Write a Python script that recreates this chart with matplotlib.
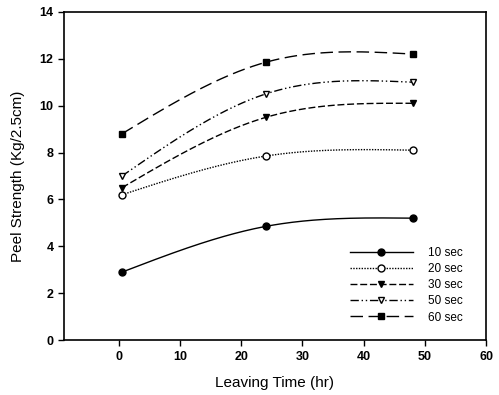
import numpy as np
import matplotlib.pyplot as plt

# Peel strength vs leaving time for different press times
hours = [0.5, 24, 48]
s10 = [2.9, 4.85, 5.2]
s20 = [6.2, 7.85, 8.1]
s30 = [6.5, 9.5, 10.1]
s50 = [7.0, 10.5, 11.0]
s60 = [8.8, 11.85, 12.2]
labels = ["10 sec", "20 sec", "30 sec", "50 sec", "60 sec"]


def smooth(x, y, n=100):
    # natural cubic spline through the points (curve drawing only)
    x = np.asarray(x, float)
    y = np.asarray(y, float)
    k = len(x)
    h = np.diff(x)
    A = np.zeros((k, k))
    b = np.zeros(k)
    A[0, 0] = A[-1, -1] = 1
    for i in range(1, k - 1):
        A[i, i - 1] = h[i - 1]
        A[i, i] = 2 * (h[i - 1] + h[i])
        A[i, i + 1] = h[i]
        b[i] = 6 * ((y[i + 1] - y[i]) / h[i] - (y[i] - y[i - 1]) / h[i - 1])
    M = np.linalg.solve(A, b)
    xs, ys = [], []
    for i in range(k - 1):
        t = np.linspace(x[i], x[i + 1], n)
        a = x[i + 1] - t
        c = t - x[i]
        s = (M[i] * a**3 + M[i + 1] * c**3) / (6 * h[i]) \
            + (y[i] / h[i] - M[i] * h[i] / 6) * a \
            + (y[i + 1] / h[i] - M[i + 1] * h[i] / 6) * c
        xs.append(t)
        ys.append(s)
    return np.concatenate(xs), np.concatenate(ys)


plt.rcParams["font.family"] = ["Liberation Sans", "DejaVu Sans"]

fig = plt.figure(figsize=(4.99, 3.95), dpi=100)
ax = fig.add_axes([0.128, 0.139, 0.846, 0.831])

series = [s10, s20, s30, s50, s60]
styles = ["-", (0, (1, 1)), (0, (5, 2)), (0, (6, 2, 1, 2, 1, 2)), (0, (9, 4))]
markers = ["o", "o", "v", "v", "s"]
faces = ["black", "white", "black", "white", "black"]

for vals, ls, mk, fc, lab in zip(series, styles, markers, faces, labels):
    xs, ys = smooth(hours, vals)
    ax.plot(xs, ys, color="black", lw=1.0, linestyle=ls)
    ax.plot(hours, vals, linestyle="none", marker=mk, mfc=fc, mec="black",
            ms=5, mew=1.0)
    ax.plot([], [], color="black", lw=1.0, linestyle=ls, marker=mk, mfc=fc,
            mec="black", ms=5, mew=1.0, label=lab)

ax.set_xlim(-9, 60)
ax.set_ylim(0, 14)
ax.set_xticks([0, 10, 20, 30, 40, 50, 60])
ax.set_yticks([0, 2, 4, 6, 8, 10, 12, 14])
ax.tick_params(direction="out", length=4, width=1, labelsize=9)
for lab in ax.get_xticklabels() + ax.get_yticklabels():
    lab.set_fontweight("bold")
for sp in ax.spines.values():
    sp.set_linewidth(1.2)

ax.set_xlabel("Leaving Time (hr)", fontsize=11, labelpad=10)
ax.set_ylabel("Peel Strength (Kg/2.5cm)", fontsize=11, labelpad=10)

ax.legend(loc="lower right", frameon=False, fontsize=8.5, handlelength=5.3,
          labelspacing=0.35, handletextpad=1.3, borderpad=0.4,
          bbox_to_anchor=(0.97, 0.018))

fig.savefig("out.png", dpi=100)
